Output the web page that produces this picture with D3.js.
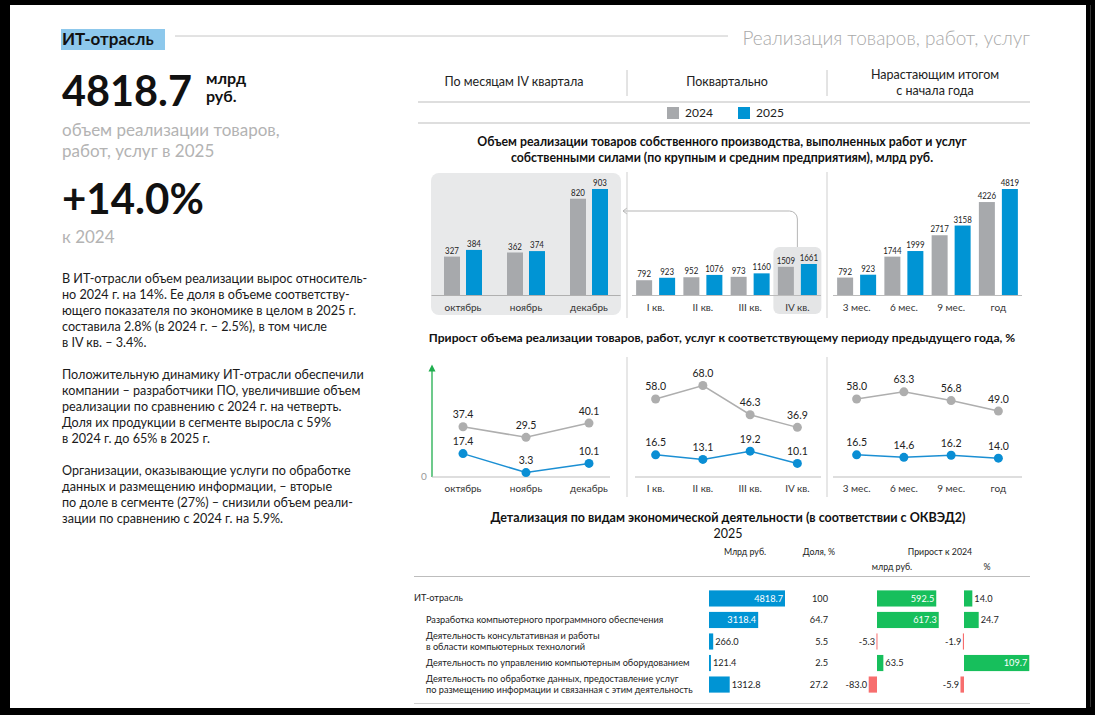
<!DOCTYPE html>
<html><head><meta charset="utf-8">
<script src="https://cdn.jsdelivr.net/npm/d3@7"></script>
<style>
html,body{margin:0;padding:0;background:#fff;}
svg{display:block;}
</style></head>
<body>
<script>
// ---------- DATA ----------
const months = ["октябрь","ноябрь","декабрь"];
const months2024 = [327,362,820];
const months2025 = [384,374,903];
const quarters = ["I кв.","II кв.","III кв.","IV кв."];
const quarters2024 = [792,952,973,1509];
const quarters2025 = [923,1076,1160,1661];
const cumul = ["3 мес.","6 мес.","9 мес.","год"];
const cumul2024 = [792,1744,2717,4226];
const cumul2025 = [923,1999,3158,4819];

const monthsGrowth2024 = [37.4,29.5,40.1];
const monthsGrowth2025 = [17.4,3.3,10.1];
const quartersGrowth2024 = [58.0,68.0,46.3,36.9];
const quartersGrowth2025 = [16.5,13.1,19.2,10.1];
const cumulGrowth2024 = [58.0,63.3,56.8,49.0];
const cumulGrowth2025 = [16.5,14.6,16.2,14.0];

const activities = [
  ["ИТ-отрасль"],
  ["Разработка компьютерного программного обеспечения"],
  ["Деятельность консультативная и работы","в области компьютерных технологий"],
  ["Деятельность по управлению компьютерным оборудованием"],
  ["Деятельность по обработке данных, предоставление услуг","по размещению информации и связанная с этим деятельность"]
];
const volume = [4818.7,3118.4,266.0,121.4,1312.8];
const share = ["100","64.7","5.5","2.5","27.2"];
const growthAbs = [592.5,617.3,-5.3,63.5,-83.0];
const growthPct = [14.0,24.7,-1.9,109.7,-5.9];

const tabs = ["По месяцам IV квартала","Поквартально",["Нарастающим итогом","с начала года"]];
const legendYears = ["2024","2025"];
const paragraphs = [
 ["В ИТ-отрасли объем реализации вырос относитель-","но 2024 г. на 14%. Ее доля в объеме соответству-","ющего показателя по экономике в целом в 2025 г.","составила 2.8% (в 2024 г. – 2.5%), в том числе","в IV кв. – 3.4%."],
 ["Положительную динамику ИТ-отрасли обеспечили","компании – разработчики ПО, увеличившие объем","реализации по сравнению с 2024 г. на четверть.","Доля их продукции в сегменте выросла с 59%","в 2024 г. до 65% в 2025 г."],
 ["Организации, оказывающие услуги по обработке","данных и размещению информации, – вторые","по доле в сегменте (27%) – снизили объем реали-","зации по сравнению с 2024 г. на 5.9%."]
];

// ---------- STYLE ----------
const F = "Lato, 'Noto Sans', sans-serif";
const GRAY = "#a7a9ac", BLUE = "#0094d4", GREEN = "#17bf5c", RED = "#f76e6e";
const W = 1095, H = 715;

const svg = d3.select("body").append("svg").attr("width", W).attr("height", H)
  .style("font-family", F);
svg.append("rect").attr("width", W).attr("height", H).attr("fill", "#fff");

function txt(g, x, y, s, o = {}) {
  const t = g.append("text").attr("x", x).attr("y", y).text(s)
    .attr("font-size", o.size || 12).attr("fill", o.fill || "#222")
    .attr("text-anchor", o.anchor || "start");
  if (o.weight) t.attr("font-weight", o.weight);
  if (o.family) t.attr("font-family", o.family);
  if (o.len) t.attr("textLength", o.len).attr("lengthAdjust", "spacingAndGlyphs");
  return t;
}

// ---------- HEADER (left) ----------
svg.append("rect").attr("x", 61).attr("y", 29).attr("width", 104).attr("height", 21).attr("fill", "#8dc8ec");
txt(svg, 62, 45, "ИТ-отрасль", {size: 17, weight: 700, fill: "#111"});
svg.append("line").attr("x1", 175).attr("x2", 728).attr("y1", 36).attr("y2", 36).attr("stroke", "#c6c6c6");
txt(svg, 1030, 45, "Реализация товаров, работ, услуг", {size: 19, fill: "#a9a9a9", anchor: "end", weight: 300});

txt(svg, 62, 106, "4818.7", {size: 42, weight: 700, fill: "#111", len: 130});
txt(svg, 206, 84, "млрд", {size: 16, weight: 700, fill: "#111"});
txt(svg, 206, 102, "руб.", {size: 16, weight: 700, fill: "#111"});
txt(svg, 62, 136, "объем реализации товаров,", {size: 17, fill: "#b3b3b3"});
txt(svg, 62, 157, "работ, услуг в 2025", {size: 17, fill: "#b3b3b3"});
txt(svg, 62, 214, "+14.0%", {size: 42, weight: 700, fill: "#111"});
txt(svg, 62, 243, "к 2024", {size: 17, fill: "#b3b3b3"});

const pStarts = [283, 379, 475];
paragraphs.forEach((p, i) => p.forEach((line, j) =>
  txt(svg, 62, pStarts[i] + j * 16, line, {size: 12.6, fill: "#1a1a1a"})));

// ---------- TABS + LEGEND ----------
const tabX = [514, 727, 935];
txt(svg, tabX[0], 86, tabs[0], {size: 12.5, anchor: "middle"});
txt(svg, tabX[1], 86, tabs[1], {size: 12.5, anchor: "middle"});
txt(svg, tabX[2], 79, tabs[2][0], {size: 12.5, anchor: "middle"});
txt(svg, tabX[2], 95, tabs[2][1], {size: 12.5, anchor: "middle"});
[627, 827].forEach(x => svg.append("line").attr("x1", x).attr("x2", x).attr("y1", 70).attr("y2", 96).attr("stroke", "#c8c8c8"));
[102, 123].forEach(y => svg.append("line").attr("x1", 418).attr("x2", 1030).attr("y1", y).attr("y2", y).attr("stroke", "#bdbdbd"));
const legX = [667, 738];
legendYears.forEach((yr, i) => {
  svg.append("rect").attr("x", legX[i]).attr("y", 107).attr("width", 12).attr("height", 12).attr("fill", i ? BLUE : GRAY);
  txt(svg, legX[i] + 18, 117, yr, {size: 12});
});

txt(svg, 722, 146, "Объем реализации товаров собственного производства, выполненных работ и услуг", {size: 12.3, weight: 700, anchor: "middle", fill: "#111"});
txt(svg, 722, 162, "собственными силами (по крупным и средним предприятиям), млрд руб.", {size: 12.3, weight: 700, anchor: "middle", fill: "#111"});

// ---------- BAR PANELS ----------
const base = 295;
const panels = [
  {cats: months, a: months2024, b: months2025, range: [431.5, 620.5], yMax: 903, yPx: 106},
  {cats: quarters, a: quarters2024, b: quarters2025, range: [632, 821], yMax: 1661, yPx: 31},
  {cats: cumul, a: cumul2024, b: cumul2025, range: [833, 1022], yMax: 4819, yPx: 106}
];
panels.forEach(p => {
  p.x = d3.scaleBand().domain(p.cats).range(p.range).padding(0);
  p.y = d3.scaleLinear().domain([0, p.yMax]).range([base, base - p.yPx]);
});

// background for months panel
svg.append("rect").attr("x", 431).attr("y", 173).attr("width", 190).attr("height", 142).attr("rx", 8).attr("fill", "#e8e9ea");
// IV quarter highlight
{
  const p = panels[1], cx = p.x("IV кв.") + p.x.bandwidth() / 2;
  svg.append("rect").attr("x", cx - 24).attr("y", 247).attr("width", 48).attr("height", 67).attr("rx", 6).attr("fill", "#e4e5e6");
  const path = d3.path();
  path.moveTo(cx, 247); path.lineTo(cx, 219);
  path.arcTo(cx, 211, cx - 8, 211, 8);
  path.lineTo(623, 211);
  svg.append("path").attr("d", path.toString()).attr("fill", "none").attr("stroke", "#b5b5b5");
  svg.append("path").attr("d", "M627,208 L623,211 L627,214").attr("fill", "none").attr("stroke", "#b5b5b5");
}
// separators
[627, 827].forEach(x => svg.append("line").attr("x1", x).attr("x2", x).attr("y1", 172).attr("y2", 318).attr("stroke", "#cfcfcf"));

panels.forEach((p, pi) => {
  const g = svg.append("g");
  const bw = 16, gap = pi === 0 ? 3 : 3.5;
  g.append("line").attr("x1", p.range[0]).attr("x2", p.range[1]).attr("y1", base + 0.5).attr("y2", base + 0.5)
    .attr("stroke", pi === 0 ? "#b0b0b0" : "#bcbcbc").attr("stroke-width", 1.2);
  p.cats.forEach((c, i) => {
    const cx = p.x(c) + p.x.bandwidth() / 2;
    [[p.a[i], cx - gap - bw, GRAY], [p.b[i], cx + gap, BLUE]].forEach(([v, x, col]) => {
      g.append("rect").attr("x", x).attr("y", p.y(v)).attr("width", bw).attr("height", base - p.y(v)).attr("fill", col);
      const s = String(v);
      txt(g, x + bw / 2, p.y(v) - 3, s, {size: 9.8, anchor: "middle", fill: "#222", len: s.length * 4.6});
    });
    txt(g, cx, 311, c, {size: 10, anchor: "middle", fill: "#333"});
  });
});

// ---------- LINE PANELS ----------
txt(svg, 722, 342, "Прирост объема реализации товаров, работ, услуг к соответствующему периоду предыдущего года, %", {size: 12.1, weight: 700, anchor: "middle", fill: "#111"});
const lb = 477;
const yL = d3.scaleLinear().domain([0, 100]).range([lb, lb - 134.5]);
const linePanels = [
  {cats: months, a: monthsGrowth2024, b: monthsGrowth2025, range: [431.5, 620.5], axis: [432, 610]},
  {cats: quarters, a: quartersGrowth2024, b: quartersGrowth2025, range: [632, 821], axis: [635, 821]},
  {cats: cumul, a: cumulGrowth2024, b: cumulGrowth2025, range: [833, 1022], axis: [833, 1022]}
];
[627, 827].forEach(x => svg.append("line").attr("x1", x).attr("x2", x).attr("y1", 357).attr("y2", 497).attr("stroke", "#cfcfcf"));
// green axis
svg.append("line").attr("x1", 432).attr("x2", 432).attr("y1", lb).attr("y2", yL(80)).attr("stroke", "#1fae4e").attr("stroke-width", 1.3);
svg.append("path").attr("d", `M428.5,${yL(80) + 2} L432,${yL(80) - 5} L435.5,${yL(80) + 2} Z`).attr("fill", "#1fae4e");
txt(svg, 424, lb + 3, "0", {size: 10, fill: "#999", anchor: "middle"});

linePanels.forEach(p => {
  const g = svg.append("g");
  const x = d3.scaleBand().domain(p.cats).range(p.range);
  const cx = c => x(c) + x.bandwidth() / 2;
  g.append("line").attr("x1", p.axis[0]).attr("x2", p.axis[1]).attr("y1", lb).attr("y2", lb).attr("stroke", "#bdbdbd");
  [[p.a, "#aeaeae", "#aeaeae"], [p.b, "#1b8fd3", "#0a8ed4"]].forEach(([vals, lc, dc]) => {
    const line = d3.line().x((d, i) => cx(p.cats[i])).y(d => yL(d));
    g.append("path").attr("d", line(vals)).attr("fill", "none").attr("stroke", lc).attr("stroke-width", 1.5);
    vals.forEach((v, i) => {
      g.append("circle").attr("cx", cx(p.cats[i])).attr("cy", yL(v)).attr("r", 4.5).attr("fill", dc);
      txt(g, cx(p.cats[i]), yL(v) - 8.5, v.toFixed(1), {size: 10.5, anchor: "middle", fill: "#222"});
    });
  });
  p.cats.forEach(c => txt(g, cx(c), 492, c, {size: 10, anchor: "middle", fill: "#333"}));
});

// ---------- TABLE ----------
txt(svg, 728, 522, "Детализация по видам экономической деятельности (в соответствии с ОКВЭД2)", {size: 12.5, weight: 700, anchor: "middle", fill: "#111"});
txt(svg, 728, 538, "2025", {size: 12.5, anchor: "middle", fill: "#111"});
txt(svg, 745, 555, "Млрд руб.", {size: 8.8, anchor: "middle"});
txt(svg, 819, 555, "Доля, %", {size: 8.8, anchor: "middle"});
txt(svg, 940, 555, "Прирост к 2024", {size: 8.8, anchor: "middle"});
txt(svg, 892, 570, "млрд руб.", {size: 8.8, anchor: "middle"});
txt(svg, 987, 570, "%", {size: 8.8, anchor: "middle"});
svg.append("line").attr("x1", 414).attr("x2", 1030).attr("y1", 576.5).attr("y2", 576.5).attr("stroke", "#bdbdbd");
svg.append("line").attr("x1", 414).attr("x2", 1030).attr("y1", 703.5).attr("y2", 703.5).attr("stroke", "#d0d0d0");

const rowY = d3.scaleBand().domain(d3.range(activities.length)).range([585, 698]).padding(0.25);
const xVol = d3.scaleLinear().domain([0, 4818.7]).range([709, 785]);
const xAbs = d3.scaleLinear().domain([0, 100]).range([877, 887]);
const xPct = d3.scaleLinear().domain([0, 100]).range([964, 1023.5]);
const fmt = v => v.toFixed(1);
const TS = 9.2;

activities.forEach((lab, i) => {
  const y0 = rowY(i), h = rowY.bandwidth(), cy = y0 + h / 2;
  const lx = i === 0 ? 414 : 426;
  if (lab.length === 1) txt(svg, lx, cy + 3, lab[0], {size: TS});
  else { txt(svg, lx, cy - 2.5, lab[0], {size: TS}); txt(svg, lx, cy + 8, lab[1], {size: TS}); }

  // volume
  const w = xVol(volume[i]) - xVol(0);
  svg.append("rect").attr("x", xVol(0)).attr("y", y0).attr("width", w).attr("height", h).attr("fill", BLUE);
  if (w > 40) txt(svg, xVol(volume[i]) - 2, cy + 3.2, fmt(volume[i]), {size: TS, anchor: "end", fill: "#fff"});
  else txt(svg, xVol(volume[i]) + 2, cy + 3.2, fmt(volume[i]), {size: TS, fill: "#222"});
  // share
  txt(svg, 828, cy + 3.2, share[i], {size: TS, anchor: "end"});
  // growth abs / pct
  [[growthAbs[i], xAbs], [growthPct[i], xPct]].forEach(([v, sc]) => {
    const x1 = sc(Math.min(0, v)), x2 = sc(Math.max(0, v));
    svg.append("rect").attr("x", x1).attr("y", y0).attr("width", Math.max(1, x2 - x1)).attr("height", h).attr("fill", v >= 0 ? GREEN : RED);
    if (v >= 0 && x2 - x1 > 40) txt(svg, x2 - 2, cy + 3.2, fmt(v), {size: TS, anchor: "end", fill: "#fff"});
    else if (v >= 0) txt(svg, x2 + 2, cy + 3.2, fmt(v), {size: TS});
    else txt(svg, x1 - 1.5, cy + 3.2, fmt(v), {size: TS, anchor: "end"});
  });
});

// ---------- FRAME ----------
svg.append("rect").attr("x", 0).attr("y", 0).attr("width", W).attr("height", 5).attr("fill", "#000");
svg.append("rect").attr("x", 0).attr("y", 0).attr("width", 10).attr("height", H).attr("fill", "#000");
svg.append("rect").attr("x", 1086).attr("y", 0).attr("width", 9).attr("height", H).attr("fill", "#000");
svg.append("line").attr("x1", 1090.5).attr("x2", 1090.5).attr("y1", 5).attr("y2", 707).attr("stroke", "#333");
svg.append("rect").attr("x", 0).attr("y", 708).attr("width", W).attr("height", 7).attr("fill", "#000");
</script>
</body></html>
